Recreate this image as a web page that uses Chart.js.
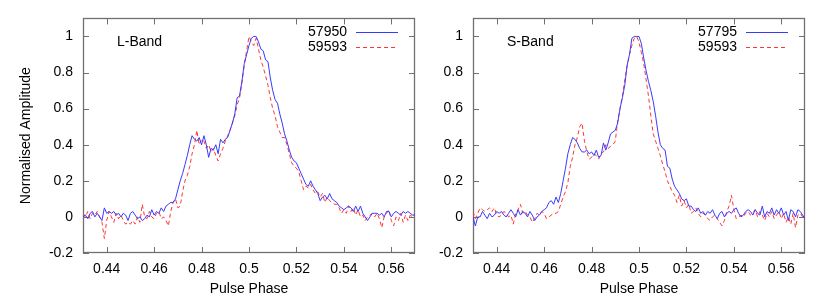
<!DOCTYPE html>
<html>
<head>
<meta charset="utf-8">
<script src="https://cdn.jsdelivr.net/npm/chart.js@4.4.1/dist/chart.umd.min.js"></script>
<style>
  html, body { margin: 0; padding: 0; background: #fff; }
  #wrap { position: relative; width: 830px; height: 302px; overflow: hidden; }
  canvas { position: absolute; top: 0; }
  #lband { left: 0; }
  #sband { left: 390px; }
</style>
</head>
<body>
<div id="wrap">
  <canvas id="lband" width="440" height="302"></canvas>
  <canvas id="sband" width="440" height="302"></canvas>
</div>
<script>
// pulse phase bins (0.430 .. 0.570)
const phase = [
  0.430, 0.431, 0.432, 0.433, 0.434, 0.435, 0.436, 0.437, 0.438, 0.439,
  0.440, 0.441, 0.442, 0.443, 0.444, 0.445, 0.446, 0.447, 0.448, 0.449,
  0.450, 0.451, 0.452, 0.453, 0.454, 0.455, 0.456, 0.457, 0.458, 0.459,
  0.460, 0.461, 0.462, 0.463, 0.464, 0.465, 0.466, 0.467, 0.468, 0.469,
  0.470, 0.471, 0.472, 0.473, 0.474, 0.475, 0.476, 0.477, 0.478, 0.479,
  0.480, 0.481, 0.482, 0.483, 0.484, 0.485, 0.486, 0.487, 0.488, 0.489,
  0.490, 0.491, 0.492, 0.493, 0.494, 0.495, 0.496, 0.497, 0.498, 0.499,
  0.500, 0.501, 0.502, 0.503, 0.504, 0.505, 0.506, 0.507, 0.508, 0.509,
  0.510, 0.511, 0.512, 0.513, 0.514, 0.515, 0.516, 0.517, 0.518, 0.519,
  0.520, 0.521, 0.522, 0.523, 0.524, 0.525, 0.526, 0.527, 0.528, 0.529,
  0.530, 0.531, 0.532, 0.533, 0.534, 0.535, 0.536, 0.537, 0.538, 0.539,
  0.540, 0.541, 0.542, 0.543, 0.544, 0.545, 0.546, 0.547, 0.548, 0.549,
  0.550, 0.551, 0.552, 0.553, 0.554, 0.555, 0.556, 0.557, 0.558, 0.559,
  0.560, 0.561, 0.562, 0.563, 0.564, 0.565, 0.566, 0.567, 0.568, 0.569,
  0.570
];

// L-Band, MJD 57950
const lBand57950 = [
  0.00, 0.01, -0.01, 0.02, 0.03, 0.00, 0.02, 0.00, -0.02, 0.05,
  0.02, 0.03, 0.02, 0.03, 0.01, 0.02, 0.00, 0.02, 0.01, -0.02,
  0.02, 0.03, 0.01, -0.01, 0.00, -0.02, -0.01, 0.01, 0.00, 0.04,
  0.01, 0.03, 0.02, 0.05, 0.03, 0.06, 0.07, 0.08, 0.08, 0.10,
  0.15, 0.20, 0.24, 0.29, 0.34, 0.40, 0.45, 0.43, 0.42, 0.44,
  0.40, 0.45, 0.40, 0.33, 0.38, 0.37, 0.40, 0.35, 0.43, 0.41,
  0.43, 0.44, 0.48, 0.52, 0.57, 0.66, 0.67, 0.75, 0.85, 0.90,
  0.95, 0.99, 1.00, 1.00, 0.97, 0.93, 0.92, 0.87, 0.86, 0.77,
  0.70, 0.65, 0.63, 0.57, 0.52, 0.46, 0.42, 0.37, 0.33, 0.31,
  0.30, 0.27, 0.24, 0.21, 0.18, 0.17, 0.20, 0.17, 0.15, 0.13,
  0.09, 0.11, 0.12, 0.10, 0.13, 0.10, 0.09, 0.08, 0.06, 0.05,
  0.04, 0.05, 0.06, 0.05, 0.03, 0.06, 0.03, 0.06, 0.02, 0.00,
  -0.02, 0.00, 0.02, 0.02, 0.02, 0.01, 0.02, 0.00, 0.03, 0.03,
  0.00, 0.02, 0.03, 0.02, 0.01, 0.03, 0.02, 0.03, 0.02, 0.01,
  0.01
];

// L-Band, MJD 59593
const lBand59593 = [
  0.02, 0.00, 0.03, -0.01, 0.02, 0.01, 0.03, 0.00, -0.03, -0.12,
  -0.02, 0.03, 0.00, -0.03, 0.02, -0.01, 0.01, -0.02, -0.04, -0.03,
  -0.04, -0.02, -0.04, 0.00, -0.03, 0.07, 0.00, -0.01, 0.03, 0.00,
  -0.01, 0.02, 0.03, -0.01, 0.00, -0.02, -0.05, 0.03, 0.08, 0.10,
  0.05, 0.06, 0.14, 0.20, 0.23, 0.28, 0.35, 0.40, 0.48, 0.40,
  0.43, 0.42, 0.38, 0.40, 0.36, 0.38, 0.34, 0.31, 0.35, 0.38,
  0.42, 0.45, 0.48, 0.52, 0.56, 0.62, 0.66, 0.74, 0.84, 0.92,
  1.00, 0.97, 0.95, 0.99, 0.93, 0.87, 0.83, 0.78, 0.73, 0.66,
  0.60, 0.56, 0.50, 0.47, 0.44, 0.44, 0.40, 0.35, 0.30, 0.28,
  0.27, 0.25, 0.20, 0.15, 0.17, 0.16, 0.18, 0.15, 0.13, 0.14,
  0.11, 0.13, 0.08, 0.11, 0.09, 0.08, 0.07, 0.07, 0.05, 0.02,
  0.04, 0.02, 0.06, 0.03, 0.05, 0.01, 0.04, 0.00, 0.01, -0.02,
  0.00, 0.01, 0.02, 0.00, 0.02, -0.01, -0.06, 0.00, 0.02, 0.04,
  -0.02, -0.05, 0.00, -0.02, 0.02, -0.03, 0.01, -0.02, 0.01, 0.00,
  0.02
];

// S-Band, MJD 57795
const sBand57795 = [
  0.00, -0.05, 0.00, 0.00, 0.03, 0.01, -0.01, 0.02, 0.00, 0.01,
  0.03, 0.02, 0.03, 0.01, 0.00, 0.02, 0.04, 0.02, 0.00, 0.04,
  0.01, 0.03, 0.02, 0.00, 0.03, 0.01, -0.02, 0.00, 0.01, 0.03,
  0.04, 0.05, 0.08, 0.09, 0.07, 0.11, 0.08, 0.13, 0.20, 0.27,
  0.35, 0.40, 0.44, 0.43, 0.41, 0.38, 0.36, 0.36, 0.37, 0.35,
  0.36, 0.34, 0.37, 0.33, 0.34, 0.41, 0.37, 0.41, 0.46, 0.47,
  0.48, 0.52, 0.60, 0.66, 0.73, 0.84, 0.90, 0.99, 1.00, 1.00,
  1.00, 0.96, 0.88, 0.81, 0.75, 0.70, 0.64, 0.56, 0.47, 0.40,
  0.38, 0.37, 0.28, 0.27, 0.21, 0.17, 0.15, 0.13, 0.10, 0.09,
  0.10, 0.06, 0.06, 0.04, 0.03, 0.05, 0.02, 0.03, 0.01, 0.03,
  0.02, 0.04, 0.01, -0.01, 0.02, 0.03, 0.00, 0.02, 0.03, 0.02,
  0.04, 0.05, 0.02, 0.00, 0.01, 0.03, 0.04, 0.03, 0.01, 0.04,
  0.02, 0.01, 0.06, 0.00, 0.03, 0.02, 0.05, 0.01, 0.04, 0.02,
  0.05, 0.01, 0.03, -0.02, 0.04, 0.03, 0.00, 0.04, 0.03, 0.01,
  -0.01
];

// S-Band, MJD 59593
const sBand59593 = [
  0.03, -0.01, 0.02, 0.05, 0.04, 0.03, 0.04, 0.05, 0.03, 0.05,
  0.01, 0.00, 0.01, 0.03, 0.02, 0.00, 0.01, -0.04, 0.02, 0.04,
  0.07, 0.02, 0.03, 0.01, 0.00, -0.03, -0.01, 0.02, 0.01, 0.03,
  0.02, -0.01, 0.00, 0.01, 0.02, 0.02, 0.03, 0.07, 0.11, 0.14,
  0.19, 0.28, 0.33, 0.40, 0.44, 0.50, 0.52, 0.42, 0.36, 0.32,
  0.33, 0.35, 0.34, 0.32, 0.35, 0.36, 0.40, 0.38, 0.39, 0.40,
  0.42, 0.53, 0.60, 0.67, 0.76, 0.84, 0.90, 0.95, 0.99, 1.00,
  0.97, 0.91, 0.85, 0.76, 0.67, 0.56, 0.46, 0.42, 0.38, 0.34,
  0.29, 0.25, 0.20, 0.17, 0.14, 0.12, 0.08, 0.12, 0.06, 0.09,
  0.05, 0.07, 0.02, 0.03, 0.05, 0.02, 0.00, 0.02, 0.01, -0.01,
  -0.02, 0.00, 0.01, -0.01, -0.03, -0.05, -0.02, 0.03, 0.06, 0.12,
  0.04, -0.01, 0.00, 0.01, 0.00, 0.02, 0.03, 0.01, 0.02, 0.04,
  0.00, 0.03, 0.01, -0.02, 0.02, 0.00, 0.03, -0.01, 0.01, 0.03,
  -0.01, 0.02, -0.03, 0.00, -0.04, 0.02, -0.06, 0.01, 0.02, 0.00,
  0.01
];

const xTicks = [0.44, 0.46, 0.48, 0.50, 0.52, 0.54, 0.56];
const yTicks = [-0.2, 0, 0.2, 0.4, 0.6, 0.8, 1.0];

const FONT = "'Liberation Sans', Arial, Helvetica, sans-serif";
const BLUE = '#3a3aff';
const RED = '#ff3535';

// gnuplot-style tick text: 1 not 1.0, 0.5 not 0.50
const gpLabel = v => String(parseFloat(Number(v).toFixed(3)));

// gnuplot look: grey frame, inward ticks on all four sides, key in the corner
const gnuplotFrame = {
  id: 'gnuplotFrame',
  beforeDatasetsDraw(chart) {
    const { ctx, chartArea: a, scales: { x, y } } = chart;
    const t = 6;
    ctx.save();
    ctx.strokeStyle = '#707070';
    ctx.lineWidth = 1;
    ctx.beginPath();
    xTicks.forEach(v => {
      const px = Math.round(x.getPixelForValue(v)) + 0.5;
      ctx.moveTo(px, a.bottom); ctx.lineTo(px, a.bottom - t);
      ctx.moveTo(px, a.top); ctx.lineTo(px, a.top + t);
    });
    yTicks.forEach(v => {
      const py = Math.round(y.getPixelForValue(v)) + 0.5;
      ctx.moveTo(a.left, py); ctx.lineTo(a.left + t, py);
      ctx.moveTo(a.right, py); ctx.lineTo(a.right - t, py);
    });
    ctx.stroke();
    ctx.lineWidth = 1.3;
    ctx.strokeRect(Math.round(a.left) + 0.5, Math.round(a.top) + 0.5,
      Math.round(a.right - a.left) - 1, Math.round(a.bottom - a.top) - 1);
    ctx.restore();
  },
  afterDraw(chart, args, opts) {
    const { ctx, chartArea: a } = chart;
    ctx.save();
    ctx.font = '14px ' + FONT;
    ctx.fillStyle = '#000';
    ctx.textBaseline = 'middle';
    // band name
    ctx.textAlign = 'left';
    ctx.fillText(opts.band, a.left + 34, a.top + 24);
    // key
    chart.data.datasets.forEach((ds, i) => {
      const yy = Math.round(a.top + 14 + i * 15) + 0.5;
      ctx.textAlign = 'right';
      ctx.fillStyle = '#000';
      ctx.fillText(ds.label, a.right - 68, yy);
      ctx.strokeStyle = ds.borderColor;
      ctx.lineWidth = ds.borderWidth;
      ctx.setLineDash(ds.borderDash || []);
      ctx.beginPath();
      ctx.moveTo(a.right - 59, yy);
      ctx.lineTo(a.right - 17, yy);
      ctx.stroke();
    });
    ctx.restore();
  }
};

function makeProfile(id, band, series, showYTitle) {
  return new Chart(document.getElementById(id), {
    type: 'line',
    data: {
      datasets: series.map((s, i) => ({
        label: s.label,
        data: phase.map((p, k) => ({ x: p, y: s.values[k] })),
        borderColor: i === 0 ? BLUE : RED,
        borderWidth: 1,
        borderDash: i === 0 ? [] : [4, 3],
        pointRadius: 0,
        tension: 0
      }))
    },
    options: {
      responsive: false,
      animation: false,
      devicePixelRatio: 1,
      layout: { padding: { top: 9.5, right: 25, bottom: 0, left: 0 } },
      plugins: {
        legend: { display: false },
        tooltip: { enabled: false },
        gnuplotFrame: { band: band }
      },
      scales: {
        x: {
          type: 'linear',
          min: 0.43,
          max: 0.57,
          grid: { display: false, drawTicks: false },
          border: { display: false },
          afterBuildTicks: sc => { sc.ticks = xTicks.map(v => ({ value: v })); },
          afterFit: sc => { sc.height = 49; },
          ticks: {
            padding: 8,
            maxRotation: 0,
            autoSkip: false,
            color: '#000',
            font: { family: FONT, size: 14 },
            callback: gpLabel
          },
          title: {
            display: true,
            text: 'Pulse Phase',
            color: '#000',
            font: { family: FONT, size: 14 },
            padding: { top: 0, bottom: 4 }
          }
        },
        y: {
          min: -0.2,
          max: 1.1,
          grid: { display: false, drawTicks: false },
          border: { display: false },
          afterBuildTicks: sc => { sc.ticks = yTicks.map(v => ({ value: v })); },
          afterFit: sc => { sc.width = 83; },
          ticks: {
            padding: 10,
            autoSkip: false,
            color: '#000',
            font: { family: FONT, size: 14 },
            callback: gpLabel
          },
          title: {
            display: showYTitle,
            text: 'Normalised Amplitude',
            color: '#000',
            font: { family: FONT, size: 14 },
            padding: { top: 18, bottom: 0 }
          }
        }
      }
    },
    plugins: [gnuplotFrame]
  });
}

makeProfile('lband', 'L-Band', [
  { label: '57950', values: lBand57950 },
  { label: '59593', values: lBand59593 }
], true);

makeProfile('sband', 'S-Band', [
  { label: '57795', values: sBand57795 },
  { label: '59593', values: sBand59593 }
], false);
</script>
</body>
</html>
